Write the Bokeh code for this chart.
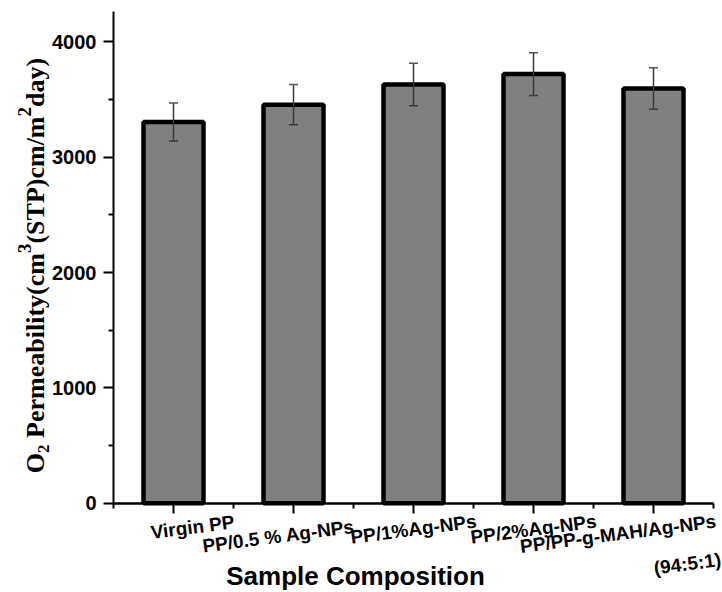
import math
from bokeh.plotting import figure
from bokeh.models import (Range1d, FixedTicker, ColumnDataSource, Whisker, TeeHead,
                          Label, LinearAxis)
from bokeh.embed import file_html
from bokeh.resources import INLINE

# ---------------- data ----------------
categories = ["Virgin PP", "PP/0.5 % Ag-NPs", "PP/1%Ag-NPs", "PP/2%Ag-NPs",
              "PP/PP-g-MAH/Ag-NPs\n(94:5:1)"]
positions = [1, 2, 3, 4, 5]
permeability = [3305, 3455, 3630, 3720, 3595]
errors = [165, 175, 185, 185, 180]
y_ticks = [0, 1000, 2000, 3000, 4000]
y_minor_ticks = [500, 1500, 2500, 3500]
x_minor_ticks = [0.5, 1.5, 2.5, 3.5, 4.5, 5.5]
x_title = "Sample Composition"
# y title pieces: (text, role)
y_title_pieces = [("O", "base"), ("2", "sub"), (" ", "gap"), ("Permeability(cm", "base"),
                  ("3", "sup"), ("(STP)cm/m", "base"), ("2", "sup"), ("day)", "base")]

# ---------------- layout (pixels) ----------------
W, H = 722, 592
X0_PX, X_PX_PER = 113.0, 120.0          # pixel of x=0.5, pixels per category
Y0_PX, Y_PX_PER = 502.7, 0.11535        # pixel of y=0, pixels per unit
AXIS_TOP_PX = 11.3
label_dx = [19, -15, 0, 0, 65]
label_dy = [-24, -33, -26, -26, -37]
label_align = ["center", "center", "center", "center", "right"]

x_lo = 0.5 - X0_PX / X_PX_PER
x_hi = 0.5 + (W - X0_PX) / X_PX_PER
y_hi = Y0_PX / Y_PX_PER
y_lo = -(H - Y0_PX) / Y_PX_PER

p = figure(width=W, height=H, output_backend="svg", toolbar_location=None, title=None,
           x_range=Range1d(x_lo, x_hi), y_range=Range1d(y_lo, y_hi),
           min_border_left=0, min_border_right=0, min_border_top=0, min_border_bottom=0)
p.outline_line_color = None
p.xgrid.visible = False
p.ygrid.visible = False
p.background_fill_color = "white"
p.border_fill_color = "white"

src = ColumnDataSource(dict(x=positions, top=permeability,
                            upper=[v + e for v, e in zip(permeability, errors)],
                            lower=[v - e for v, e in zip(permeability, errors)]))
p.vbar(x="x", top="top", width=0.5, bottom=0, source=src,
       fill_color="#808080", line_color="black", line_width=4.5)

w = Whisker(source=src, base="x", upper="upper", lower="lower",
            line_color="#3a3a3a", line_width=1.5, level="overlay",
            upper_head=TeeHead(size=9, line_color="#555555", line_width=1.5),
            lower_head=TeeHead(size=9, line_color="#3a3a3a", line_width=1.5))
p.add_layout(w)

# ---------------- y axis ----------------
ya = p.yaxis[0]
ya.fixed_location = 0.5
ya.bounds = (0, (Y0_PX - AXIS_TOP_PX) / Y_PX_PER)
ya.ticker = FixedTicker(ticks=y_ticks, minor_ticks=y_minor_ticks)
ya.axis_line_width = 2
ya.major_tick_line_width = 2
ya.minor_tick_line_width = 2
ya.major_tick_out = 10
ya.major_tick_in = 0
ya.minor_tick_out = 5
ya.minor_tick_in = 0
ya.major_label_text_font = "Liberation Sans"
ya.major_label_text_font_style = "bold"
ya.major_label_text_font_size = "20px"
ya.major_label_text_color = "black"
ya.major_label_standoff = 7

# ---------------- x axis (ticks only) ----------------
xa = p.xaxis[0]
xa.fixed_location = 0
xa.bounds = (0.5, 5.5)
xa.ticker = FixedTicker(ticks=[], minor_ticks=positions)
xa.axis_line_width = 2
xa.minor_tick_line_width = 2
xa.minor_tick_out = 10
xa.minor_tick_in = 0
xa.major_tick_out = 0

xa2 = LinearAxis(fixed_location=0, bounds=(0.5, 5.5),
                 ticker=FixedTicker(ticks=[], minor_ticks=x_minor_ticks),
                 axis_line_width=2, minor_tick_line_width=2, minor_tick_out=5,
                 minor_tick_in=0, major_tick_out=0)
p.add_layout(xa2, "below")

# ---------------- category labels ----------------
for xpos, txt, dx, dy, al in zip(positions, categories, label_dx, label_dy, label_align):
    p.add_layout(Label(x=xpos, y=0, x_offset=dx, y_offset=dy, text=txt, angle=0.13,
                       text_align=al, text_baseline="middle",
                       text_font="Liberation Sans", text_font_style="bold",
                       text_font_size="19px", text_color="black", text_line_height=1.85))

# ---------------- x title ----------------
p.add_layout(Label(x=0.5, y=0, x_offset=242, y_offset=-73, text=x_title,
                   text_align="center", text_baseline="alphabetic",
                   text_font="Liberation Sans", text_font_style="bold",
                   text_font_size="26px", text_color="black"))

# ---------------- y title (rotated, with sub/superscripts) ----------------
SERIF_BOLD_W = {"O": .778, " ": .25, "P": .611, "e": .444, "r": .444, "m": .833, "a": .5,
                "b": .556, "i": .278, "l": .278, "t": .333, "y": .5, "(": .333, "c": .444,
                "S": .556, "T": .667, ")": .333, "/": .278, "d": .556, "2": .5, "3": .5}
role_size = {"base": 26, "sub": 17, "sup": 19, "gap": 26}
role_shift = {"base": 0, "sub": -5, "sup": 14, "gap": 0}
baseline_x = 44.0
center_y = 265.0
lengths = [sum(SERIF_BOLD_W[c] for c in t) * role_size[r] for t, r in y_title_pieces]
cur_y = center_y + sum(lengths) / 2
for (t, r), ln in zip(y_title_pieces, lengths):
    if r != "gap":
        size = role_size[r]
        mid_x = baseline_x - role_shift[r] - 0.34 * size
        mid_y = cur_y - ln / 2
        p.add_layout(Label(x=0.5, y=0, x_offset=mid_x - X0_PX, y_offset=Y0_PX - mid_y, text=t,
                           angle=math.pi / 2, text_align="center", text_baseline="middle",
                           text_font="Liberation Serif", text_font_style="bold",
                           text_font_size=f"{size}px", text_color="black"))
    cur_y -= ln

open("out.html", "w").write(file_html(p, INLINE))
